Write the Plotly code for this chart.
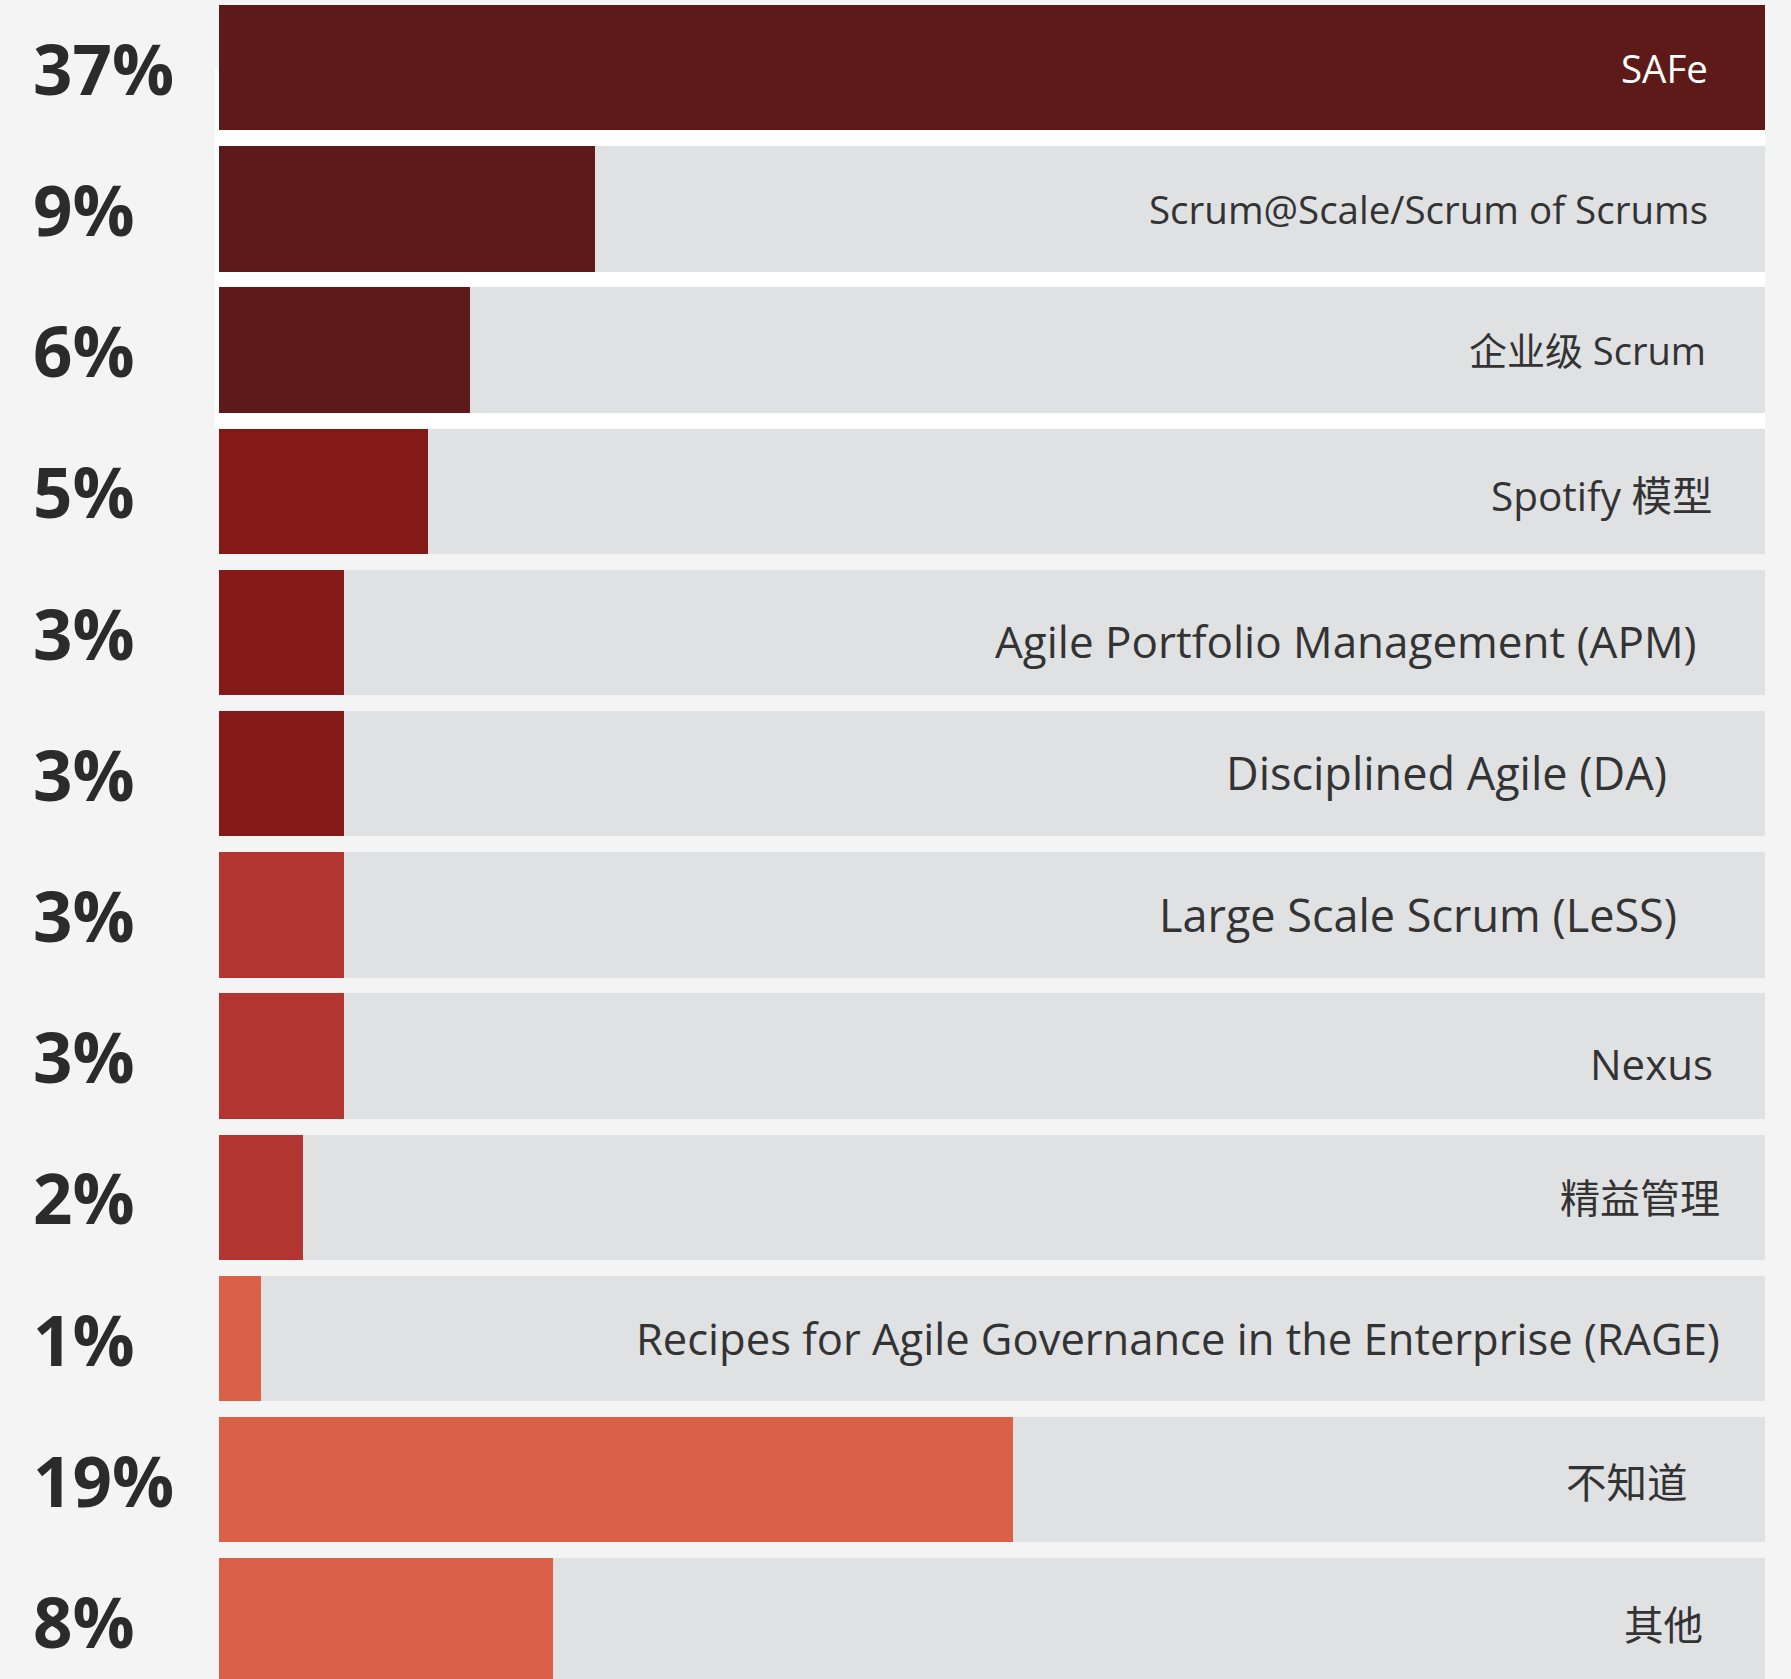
import plotly.graph_objects as go

# ---- data ----
categories = [
    "SAFe",
    "Scrum@Scale/Scrum of Scrums",
    "企业级 Scrum",
    "Spotify 模型",
    "Agile Portfolio Management (APM)",
    "Disciplined Agile (DA)",
    "Large Scale Scrum (LeSS)",
    "Nexus",
    "精益管理",
    "Recipes for Agile Governance in the Enterprise (RAGE)",
    "不知道",
    "其他",
]
values = [37, 9, 6, 5, 3, 3, 3, 3, 2, 1, 19, 8]
full_scale = 37

# ---- styling (kept separate from data) ----
colors = [
    "#5d1a19", "#5d1a19", "#5d1a19",
    "#831a17", "#831a17", "#831a17",
    "#b33532", "#b33532", "#b33532",
    "#da6048", "#da6048", "#da6048",
]
label_sizes = [38.5, 38.5, 38, 40.5, 44, 45, 45, 42, 40, 43.5, 40.5, 39.5]
label_right_px = [1710, 1710, 1708, 1714, 1698, 1669, 1679, 1715, 1722, 1722, 1690, 1705]
label_dy_px = [0, 0, 0, -4, -8, 1, 0, -7, 0, 0, -3, -4]

W, H = 1791, 1679
idx = list(range(len(categories)))

fig = go.Figure()

# gray background tracks
fig.add_trace(go.Bar(
    y=idx, x=[full_scale] * len(idx), orientation="h",
    marker=dict(color="#e0e1e3", line=dict(width=0)),
    width=0.889, hoverinfo="skip", showlegend=False,
))
# value bars
fig.add_trace(go.Bar(
    y=idx, x=values, orientation="h",
    marker=dict(color=colors, line=dict(width=0)),
    width=0.889, hoverinfo="skip", showlegend=False,
))

annotations = []
for i, (cat, v) in enumerate(zip(categories, values)):
    # percentage on the left
    annotations.append(dict(
        xref="paper", yref="y", x=31 / W, y=i, xanchor="left", yanchor="middle",
        text=f"<b>{v}%</b>", showarrow=False,
        font=dict(family="Open Sans, Noto Sans, sans-serif", size=69, color="#2b2b2b"),
    ))
    # category label on the right
    annotations.append(dict(
        xref="paper", yref="y", x=label_right_px[i] / W, y=i,
        xanchor="right", yanchor="middle", yshift=label_dy_px[i],
        text=cat, showarrow=False,
        font=dict(family="Open Sans, Noto Sans CJK SC, sans-serif", size=label_sizes[i],
                  color="#ffffff" if i == 0 else "#333333"),
    ))

# white panel behind the first three rows
shapes = [dict(
    type="rect", xref="x", yref="y", x0=-0.1, x1=full_scale,
    y0=0, y1=2.556, fillcolor="#ffffff", line=dict(width=0), layer="below",
)]

px_per_unit = (1765 - 219) / full_scale
x_left = -219 / px_per_unit
x_right = full_scale + (W - 1765) / px_per_unit

row_px = 141.2
y_top = -67.7 / row_px
y_bottom = y_top + H / row_px

fig.update_layout(
    width=W, height=H,
    margin=dict(l=0, r=0, t=0, b=0),
    paper_bgcolor="#f4f4f4", plot_bgcolor="#f4f4f4",
    barmode="overlay", bargap=0,
    xaxis=dict(range=[x_left, x_right], visible=False, fixedrange=True),
    yaxis=dict(range=[y_bottom, y_top], visible=False, fixedrange=True),
    annotations=annotations, shapes=shapes,
    showlegend=False,
)

fig.write_html(
    "out.html",
    config={"displayModeBar": False},
    post_script="document.body.style.margin='0';document.body.style.background='#f4f4f4';",
)
